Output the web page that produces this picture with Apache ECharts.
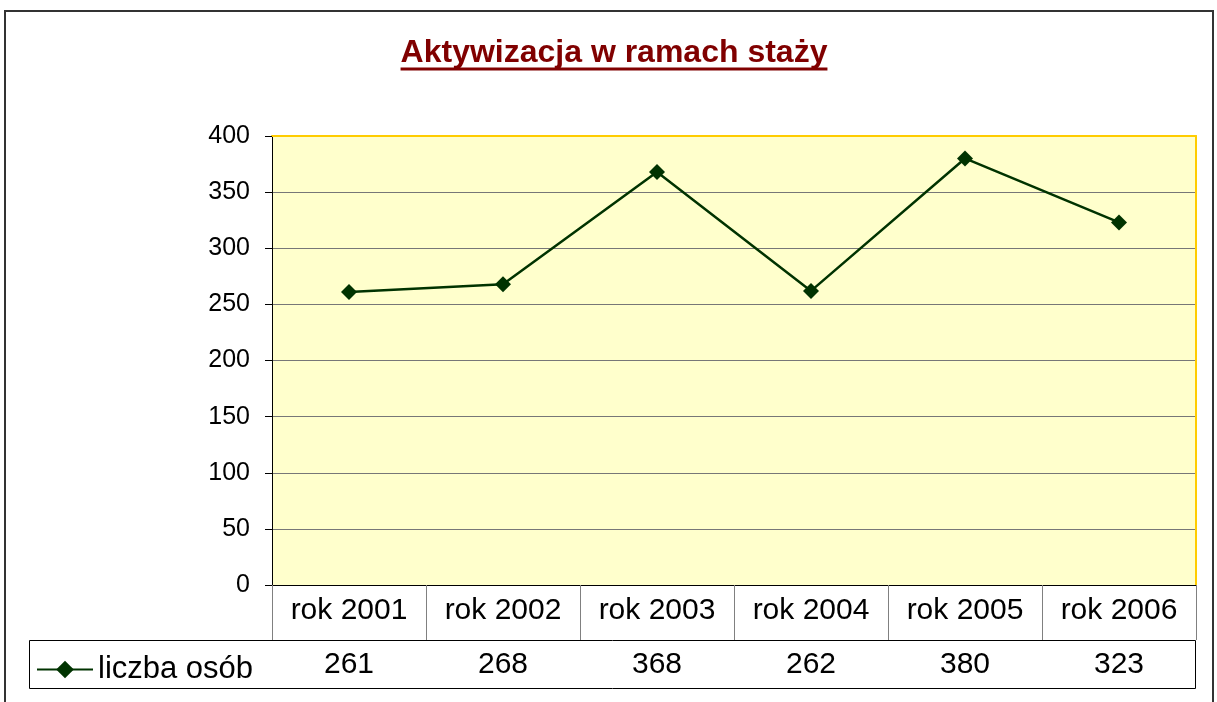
<!DOCTYPE html>
<html>
<head>
<meta charset="utf-8">
<title>Aktywizacja w ramach staży</title>
<script src="https://cdn.jsdelivr.net/npm/echarts@6/dist/echarts.min.js"></script>
<style>
  html, body { margin: 0; padding: 0; background: #fff; }
  #chart { width: 1217px; height: 702px; }
</style>
</head>
<body>
<div id="chart"></div>
<script>
// dane z wykresu
const categories = ['rok 2001', 'rok 2002', 'rok 2003', 'rok 2004', 'rok 2005', 'rok 2006']
const values = [261, 268, 368, 262, 380, 323]
const seriesName = 'liczba osób'
const titleText = 'Aktywizacja w ramach staży'

const font = '"Liberation Sans", Arial, sans-serif'
const chart = echarts.init(document.getElementById('chart'))

// szerokosc tytulu do podkreslenia
function textWidth(text, css) {
  const ctx = document.createElement('canvas').getContext('2d')
  ctx.font = css
  return ctx.measureText(text).width
}
const titleSize = 32
const titleW = textWidth(titleText, 'bold ' + titleSize + 'px ' + font)
const titleX = 614

const options = {
  animation: false,
  textStyle: { fontFamily: font },
  grid: {
    left: 272, top: 136, width: 924, height: 449,
    show: true,
    backgroundColor: '#FFFFCC',
    borderWidth: 0
  },
  legend: {
    left: 31, top: 649,
    itemWidth: 56, itemHeight: 22,
    itemGap: 0,
    textStyle: { fontSize: 31, color: '#000', fontFamily: font },
    data: [seriesName]
  },
  xAxis: [
    {
      type: 'category',
      data: categories,
      boundaryGap: true,
      axisLine: { show: true, lineStyle: { color: '#000', width: 1 } },
      axisTick: { show: true, inside: false, length: 55, lineStyle: { color: '#808080' } },
      axisLabel: { fontSize: 30, color: '#000', margin: 11, fontFamily: font }
    },
    {
      type: 'category',
      data: categories,
      position: 'bottom',
      offset: 55,
      boundaryGap: true,
      axisLine: { show: true, lineStyle: { color: '#000', width: 1 } },
      axisTick: { show: true, inside: false, length: 48, lineStyle: { color: '#808080' } },
      axisLabel: {
        fontSize: 30, color: '#000', margin: 10, fontFamily: font,
        formatter: (v, i) => String(values[i])
      }
    },
    {
      // gorna krawedz pola wykresu
      type: 'category',
      data: categories,
      position: 'top',
      axisLine: { show: true, lineStyle: { color: '#FFCC00', width: 2 } },
      axisTick: { show: false },
      axisLabel: { show: false }
    }
  ],
  yAxis: [
    {
      type: 'value',
      min: 0, max: 400, interval: 50,
      axisLine: { show: true, lineStyle: { color: '#000', width: 1 } },
      axisTick: { show: true, length: 7, lineStyle: { color: '#000' } },
      axisLabel: { fontSize: 25, color: '#000', margin: 22, fontFamily: font },
      splitLine: { show: true, lineStyle: { color: '#777', width: 1 } }
    },
    {
      // prawa krawedz pola wykresu
      type: 'value',
      position: 'right',
      min: 0, max: 400, interval: 50,
      axisLine: { show: true, lineStyle: { color: '#FFCC00', width: 2 } },
      axisTick: { show: false },
      axisLabel: { show: false },
      splitLine: { show: false }
    }
  ],
  series: [
    {
      name: seriesName,
      type: 'line',
      data: values,
      symbol: 'diamond',
      symbolSize: 16,
      itemStyle: { color: '#003300' },
      lineStyle: { color: '#003300', width: 2.5 }
    }
  ],
  graphic: [
    {
      type: 'rect',
      silent: true,
      shape: { x: 5, y: 11, width: 1208, height: 720 },
      style: { fill: 'none', stroke: '#333', lineWidth: 2 }
    },
    {
      type: 'text',
      silent: true,
      x: titleX, y: 53,
      style: {
        text: titleText,
        fill: '#800000',
        font: 'bold ' + titleSize + 'px ' + font,
        textAlign: 'center',
        textVerticalAlign: 'middle'
      }
    },
    {
      type: 'line',
      silent: true,
      shape: { x1: titleX - titleW / 2, y1: 69, x2: titleX + titleW / 2, y2: 69 },
      style: { stroke: '#800000', lineWidth: 3 }
    },
    // ramka wiersza z legenda i wartosciami
    {
      type: 'rect',
      silent: true,
      shape: { x: 29.5, y: 640.5, width: 1166, height: 48 },
      style: { fill: 'none', stroke: '#000', lineWidth: 1 }
    }
  ]
}

chart.setOption(options)
window.addEventListener('resize', () => chart.resize())
</script>
</body>
</html>
